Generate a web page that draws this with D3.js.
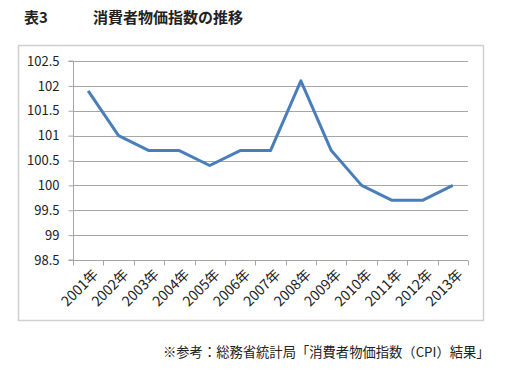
<!DOCTYPE html>
<html><head><meta charset="utf-8">
<script src="https://cdn.jsdelivr.net/npm/d3@7"></script>
<style>body{margin:0;background:#fff;}svg{display:block;}</style>
</head><body>
<svg id="c" width="520" height="370"></svg>
<script>
const categories = ["2001年","2002年","2003年","2004年","2005年","2006年","2007年","2008年","2009年","2010年","2011年","2012年","2013年"];
const values = [101.9,101.0,100.7,100.7,100.4,100.7,100.7,102.1,100.7,100.0,99.7,99.7,100.0];
const yTicks = [98.5,99,99.5,100,100.5,101,101.5,102,102.5];

const svg = d3.select("#c");
const font = "'Noto Sans CJK JP', sans-serif";
svg.append("rect").attr("x",18.5).attr("y",45.5).attr("width",465).attr("height",275)
  .attr("fill","#fff").attr("stroke","#d0d0d0").attr("stroke-width",1.5);

const x = d3.scaleBand().domain(categories).range([73,468]);
const y = d3.scaleLinear().domain([98.5,102.5]).range([260,61]);

const grid = svg.append("g");
grid.selectAll("line").data(yTicks.slice(1)).join("line")
  .attr("x1",73).attr("x2",468).attr("y1",d=>Math.round(y(d))+0.5).attr("y2",d=>Math.round(y(d))+0.5)
  .attr("stroke","#a6a6a6").attr("stroke-width",1);

const yAxis = svg.append("g").attr("transform","translate(73.5,0)")
  .call(d3.axisLeft(y).tickValues(yTicks).tickSize(5).tickFormat(d=>String(d)));
yAxis.select(".domain").attr("stroke","#a6a6a6").attr("d","M-5,"+y(98.5)+"H0V"+y(102.5)+"H-5");
yAxis.selectAll(".tick line").attr("stroke","#a6a6a6");
yAxis.selectAll("text").attr("font-family",font).attr("font-size",13).attr("fill","#222").attr("x",-14);

const xAxis = svg.append("g").attr("transform","translate(0,"+(Math.round(y(98.5))+0.5)+")");
xAxis.append("line").attr("x1",73).attr("x2",468).attr("stroke","#a6a6a6");
const edges = categories.map(c=>x(c)).concat([x.range()[1]]);
xAxis.selectAll(".tk").data(edges).join("line").attr("class","tk")
  .attr("x1",d=>Math.round(d)+0.5).attr("x2",d=>Math.round(d)+0.5).attr("y1",0).attr("y2",5).attr("stroke","#a6a6a6");
xAxis.selectAll("text").data(categories).join("text")
  .attr("transform",d=>"translate("+(x(d)+x.bandwidth()/2+4)+",8) rotate(-45)")
  .attr("text-anchor","end").attr("dy","0.7em")
  .attr("font-family",font).attr("font-size",14).attr("fill","#222").text(d=>d);

const line = d3.line().x((d,i)=>x(categories[i])+x.bandwidth()/2).y(d=>y(d));
svg.append("path").datum(values).attr("d",line).attr("fill","none")
  .attr("stroke","#4a7ebb").attr("stroke-width",3).attr("stroke-linejoin","round");

svg.append("text").attr("x",24).attr("y",23).attr("font-family",font).attr("font-size",15).attr("font-weight","bold").attr("fill","#222").text("表3");
svg.append("text").attr("x",93).attr("y",23).attr("font-family",font).attr("font-size",15).attr("font-weight","bold").attr("fill","#222").text("消費者物価指数の推移");
svg.append("text").attr("x",163).attr("y",357).attr("font-family",font).attr("font-size",13.3).attr("fill","#222").text("※参考：総務省統計局「消費者物価指数（CPI）結果」");
</script>
</body></html>
